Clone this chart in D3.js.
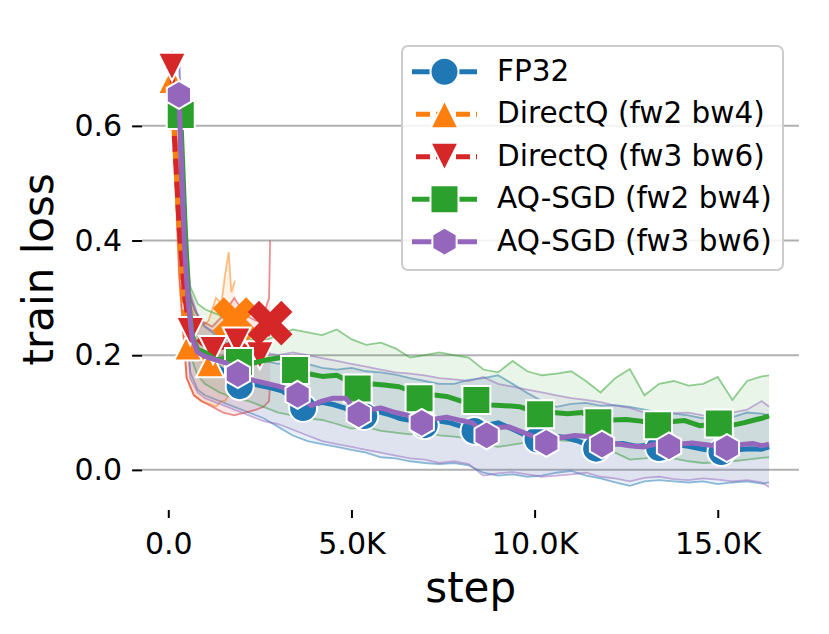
<!DOCTYPE html>
<html>
<head>
<meta charset="utf-8">
<title>train loss vs step</title>
<script src="https://d3js.org/d3.v7.min.js"></script>
<style>
  html, body { margin: 0; padding: 0; background: #fff; }
  svg { display: block; font-family: "DejaVu Sans", sans-serif; }
</style>
</head>
<body>
<svg width="829" height="634"></svg>
<script>
// steps are in thousands (K)
const fp32Steps = [0.3,0.45,0.55,0.65,0.8,1.0,1.3,1.6,1.95,2.2,2.5,2.8,3.1,3.4,3.68,3.9,4.2,4.5,4.8,5.1,5.35,5.7,6.0,6.3,6.7,7.0,7.3,7.7,8.0,8.36,8.7,9.0,9.3,9.7,10.08,10.4,10.8,11.2,11.68,12.0,12.4,12.8,13.1,13.4,13.8,14.2,14.6,15.1,15.5,15.9,16.2,16.4];
const fp32Loss  = [0.64,0.36,0.27,0.225,0.205,0.19,0.182,0.168,0.146,0.152,0.147,0.143,0.138,0.125,0.108,0.112,0.118,0.114,0.108,0.1,0.094,0.102,0.097,0.09,0.085,0.078,0.086,0.082,0.076,0.068,0.078,0.082,0.074,0.062,0.053,0.06,0.057,0.05,0.037,0.044,0.046,0.041,0.043,0.038,0.045,0.041,0.036,0.031,0.035,0.037,0.036,0.04];
const fp32Marks = [0.3,1.95,3.68,5.35,7.0,8.36,10.08,11.68,13.4,15.1];

const dq24Steps = [0.1,0.15,0.3,0.45,0.54,0.7,0.9,1.14,1.3,1.5,1.65,1.82];
const dq24Loss  = [0.68,0.6,0.42,0.26,0.215,0.2,0.192,0.186,0.2,0.23,0.25,0.262];
const dq24Marks = [0.1,0.54,1.14];

const dq36Steps = [0.1,0.15,0.3,0.45,0.6,0.9,1.22,1.5,1.87,2.2,2.5,2.65,2.78];
const dq36Loss  = [0.703,0.6,0.42,0.3,0.242,0.222,0.209,0.214,0.224,0.21,0.2,0.22,0.256];
const dq36Marks = [0.1,0.6,1.22,1.87,2.5];

const aq24Steps = [0.34,0.45,0.55,0.65,0.8,1.0,1.3,1.6,1.93,2.3,2.7,3.1,3.46,3.8,4.2,4.6,4.9,5.17,5.5,5.9,6.3,6.6,6.86,7.2,7.6,8.0,8.41,8.8,9.2,9.6,9.9,10.15,10.5,10.9,11.3,11.74,12.1,12.5,12.9,13.37,13.7,14.1,14.5,15.03,15.4,15.7,16.0,16.2,16.4];
const aq24Loss  = [0.619,0.44,0.3,0.235,0.21,0.205,0.192,0.195,0.188,0.186,0.192,0.196,0.174,0.168,0.163,0.165,0.155,0.142,0.15,0.148,0.145,0.138,0.125,0.131,0.128,0.12,0.122,0.113,0.112,0.11,0.104,0.097,0.1,0.098,0.1,0.083,0.087,0.088,0.085,0.078,0.084,0.086,0.077,0.081,0.078,0.082,0.087,0.09,0.094];
const aq24Marks = [0.34,1.93,3.46,5.17,6.86,8.41,10.15,11.74,13.37,15.03];

const aq36Steps = [0.29,0.45,0.54,0.65,0.8,1.0,1.3,1.6,1.9,2.2,2.6,3.0,3.3,3.53,3.9,4.2,4.5,4.85,5.2,5.5,5.8,6.2,6.5,6.92,7.2,7.6,8.0,8.3,8.69,9.0,9.3,9.7,10.0,10.32,10.7,11.1,11.5,11.84,12.2,12.6,13.0,13.3,13.67,14.0,14.3,14.8,15.25,15.6,15.95,16.2,16.4];
const aq36Loss  = [0.654,0.38,0.296,0.23,0.205,0.198,0.192,0.186,0.167,0.158,0.152,0.146,0.14,0.131,0.112,0.12,0.125,0.125,0.097,0.105,0.108,0.1,0.096,0.082,0.088,0.092,0.086,0.082,0.06,0.074,0.075,0.065,0.058,0.047,0.056,0.06,0.058,0.044,0.046,0.042,0.04,0.045,0.041,0.045,0.047,0.043,0.038,0.044,0.046,0.042,0.045];
const aq36Marks = [0.29,1.9,3.53,5.2,6.92,8.69,10.32,11.84,13.67,15.25];

// min / max bands across runs
const bandSteps = [0.3,0.45,0.6,0.8,1.0,1.4,1.8,2.2,2.6,3.0,3.4,3.8,4.2,4.6,5.0,5.4,5.8,6.2,6.6,7.0,7.4,7.8,8.2,8.6,9.0,9.4,9.8,10.2,10.6,11.0,11.4,11.8,12.2,12.6,13.0,13.4,13.8,14.2,14.6,15.0,15.4,15.8,16.2,16.4];
const fp32Upper = [0.7,0.42,0.3,0.27,0.25,0.23,0.21,0.2,0.19,0.185,0.19,0.185,0.178,0.175,0.178,0.172,0.17,0.166,0.16,0.155,0.15,0.15,0.157,0.16,0.165,0.15,0.134,0.12,0.11,0.115,0.117,0.112,0.113,0.11,0.105,0.1,0.098,0.095,0.09,0.087,0.092,0.1,0.098,0.095];
const fp32Lower = [0.58,0.3,0.17,0.14,0.13,0.12,0.11,0.1,0.09,0.075,0.06,0.05,0.045,0.04,0.035,0.03,0.022,0.02,0.015,0.012,0.01,0.012,0.008,-0.005,-0.01,-0.008,-0.012,-0.01,-0.005,-0.002,-0.01,-0.015,-0.022,-0.028,-0.02,-0.018,-0.02,-0.022,-0.02,-0.025,-0.022,-0.02,-0.024,-0.022];
const aq24Upper = [0.66,0.45,0.32,0.29,0.28,0.27,0.25,0.228,0.225,0.235,0.245,0.24,0.235,0.245,0.228,0.218,0.222,0.212,0.196,0.2,0.205,0.2,0.196,0.175,0.17,0.19,0.172,0.165,0.168,0.172,0.155,0.135,0.16,0.176,0.13,0.15,0.155,0.147,0.15,0.162,0.122,0.155,0.163,0.165];
const aq24Lower = [0.6,0.35,0.2,0.165,0.15,0.135,0.125,0.12,0.11,0.1,0.095,0.09,0.087,0.08,0.072,0.075,0.068,0.065,0.062,0.066,0.06,0.058,0.055,0.045,0.04,0.044,0.048,0.05,0.052,0.05,0.045,0.04,0.03,0.018,0.02,0.024,0.02,0.015,0.012,0.013,0.015,0.018,0.021,0.022];
const aq36Upper = [0.72,0.44,0.31,0.27,0.25,0.235,0.22,0.21,0.205,0.2,0.205,0.2,0.195,0.19,0.185,0.18,0.175,0.17,0.168,0.165,0.16,0.158,0.155,0.162,0.15,0.145,0.14,0.135,0.13,0.125,0.122,0.118,0.112,0.108,0.1,0.097,0.099,0.1,0.095,0.093,0.1,0.105,0.12,0.11];
const aq36Lower = [0.59,0.3,0.16,0.135,0.125,0.115,0.105,0.095,0.085,0.08,0.07,0.06,0.05,0.045,0.04,0.035,0.03,0.025,0.02,0.018,0.012,0.015,0.01,-0.01,-0.006,-0.004,-0.008,-0.012,-0.01,-0.008,-0.005,-0.012,-0.015,-0.02,-0.014,-0.012,-0.016,-0.018,-0.015,-0.017,-0.02,-0.018,-0.022,-0.03];

const dq24BandSteps = [0.1,0.3,0.5,0.7,0.9,1.1,1.3,1.45,1.55,1.65,1.72,1.82];
const dq24Upper = [0.72,0.5,0.3,0.27,0.25,0.26,0.3,0.29,0.34,0.38,0.31,0.33];
const dq24Lower = [0.64,0.33,0.16,0.13,0.12,0.115,0.11,0.12,0.12,0.13,0.13,0.14];
const dq36BandSteps = [0.1,0.3,0.5,0.7,0.9,1.2,1.5,1.8,2.1,2.4,2.6,2.75,2.78];
const dq36Upper = [0.73,0.5,0.33,0.28,0.26,0.25,0.27,0.3,0.27,0.26,0.27,0.3,0.4];
const dq36Lower = [0.66,0.34,0.16,0.13,0.12,0.11,0.1,0.095,0.1,0.105,0.11,0.12,0.15];

const xTicks = [0, 5, 10, 15];
const yTicks = [0.0, 0.2, 0.4, 0.6];

const series = [
  {name: "FP32", color: "#1f77b4", shape: "circle", dashed: false,
   steps: fp32Steps, loss: fp32Loss, marks: fp32Marks, bSteps: bandSteps, upper: fp32Upper, lower: fp32Lower, diverged: false},
  {name: "DirectQ (fw2 bw4)", color: "#ff7f0e", shape: "up", dashed: true,
   steps: dq24Steps, loss: dq24Loss, marks: dq24Marks, bSteps: dq24BandSteps, upper: dq24Upper, lower: dq24Lower, diverged: true},
  {name: "DirectQ (fw3 bw6)", color: "#d62728", shape: "down", dashed: true,
   steps: dq36Steps, loss: dq36Loss, marks: dq36Marks, bSteps: dq36BandSteps, upper: dq36Upper, lower: dq36Lower, diverged: true},
  {name: "AQ-SGD (fw2 bw4)", color: "#2ca02c", shape: "square", dashed: false,
   steps: aq24Steps, loss: aq24Loss, marks: aq24Marks, bSteps: bandSteps, upper: aq24Upper, lower: aq24Lower, diverged: false},
  {name: "AQ-SGD (fw3 bw6)", color: "#9467bd", shape: "hex", dashed: false,
   steps: aq36Steps, loss: aq36Loss, marks: aq36Marks, bSteps: bandSteps, upper: aq36Upper, lower: aq36Lower, diverged: false}
];

const svg = d3.select("svg");
const x = d3.scaleLinear().domain([-0.715, 17.215]).range([142.1, 798.9]);
const y = d3.scaleLinear().domain([-0.07, 0.77]).range([510, 28.4]);

function markerPath(shape, r) {
  const p = d3.path();
  if (shape === "circle") {
    p.arc(0, 0, r, 0, 2 * Math.PI);
  } else if (shape === "square") {
    p.rect(-r, -r, 2 * r, 2 * r);
  } else if (shape === "up") {
    p.moveTo(0, -r); p.lineTo(r, r); p.lineTo(-r, r); p.closePath();
  } else if (shape === "down") {
    p.moveTo(0, r); p.lineTo(r, -r); p.lineTo(-r, -r); p.closePath();
  } else if (shape === "hex") {
    for (let k = 0; k < 6; k++) {
      const a = -Math.PI / 2 + k * Math.PI / 3;
      if (k === 0) p.moveTo(r * Math.cos(a), r * Math.sin(a));
      else p.lineTo(r * Math.cos(a), r * Math.sin(a));
    }
    p.closePath();
  }
  return p.toString();
}

// gridlines
svg.append("g").selectAll("line")
  .data(yTicks)
  .join("line")
  .attr("x1", x.range()[0]).attr("x2", x.range()[1])
  .attr("y1", d => y(d)).attr("y2", d => y(d))
  .attr("stroke", "#b0b0b0").attr("stroke-width", 2);

// bands
const bandG = svg.append("g");
series.forEach(s => {
  const rows = d3.zip(s.bSteps, s.upper, s.lower);
  bandG.append("path")
    .datum(rows)
    .attr("fill", s.color).attr("fill-opacity", 0.1)
    .attr("d", d3.area().x(d => x(d[0])).y0(d => y(d[2])).y1(d => y(d[1])));
  [1, 2].forEach(i => {
    bandG.append("path")
      .datum(rows)
      .attr("fill", "none").attr("stroke", s.color)
      .attr("stroke-opacity", 0.5).attr("stroke-width", 1.8)
      .attr("d", d3.line().x(d => x(d[0])).y(d => y(d[i])));
  });
});

// mean lines with markers
series.forEach(s => {
  const g = svg.append("g");
  const rows = d3.zip(s.steps, s.loss);
  g.append("path")
    .datum(rows)
    .attr("fill", "none").attr("stroke", s.color)
    .attr("stroke-width", 5).attr("stroke-linejoin", "round")
    .attr("stroke-dasharray", s.dashed ? "16,7" : null)
    .attr("d", d3.line().x(d => x(d[0])).y(d => y(d[1])));
  const along = d3.scaleLinear().domain(s.steps).range(s.loss);
  g.selectAll(".mk")
    .data(s.marks)
    .join("path")
    .attr("class", "mk")
    .attr("transform", d => `translate(${x(d)},${y(along(d))})`)
    .attr("d", markerPath(s.shape, 14))
    .attr("fill", s.color).attr("stroke", "#fff").attr("stroke-width", 2);
  if (s.diverged) {
    const last = rows[rows.length - 1];
    g.append("path")
      .attr("transform", `translate(${x(last[0])},${y(last[1])}) rotate(45)`)
      .attr("d", d3.symbol().type(d3.symbolCross).size(1250)())
      .attr("fill", s.color);
  }
});

// axes
const yAxis = svg.append("g")
  .attr("transform", `translate(${x.range()[0]},0)`)
  .call(d3.axisLeft(y).tickValues(yTicks).tickFormat(d3.format(".1f")).tickSize(10).tickPadding(10));
const xAxis = svg.append("g")
  .attr("transform", `translate(0,510)`)
  .call(d3.axisBottom(x).tickValues(xTicks)
    .tickFormat(d => d === 0 ? "0.0" : d.toFixed(1) + "K").tickSize(8).tickPadding(15));
[yAxis, xAxis].forEach(a => {
  a.select(".domain").remove();
  a.attr("font-family", "DejaVu Sans").attr("font-size", 30);
  a.selectAll(".tick line").attr("stroke", "#000").attr("stroke-width", 2);
  a.selectAll(".tick text").attr("fill", "#000");
});

svg.append("text")
  .attr("transform", "translate(53,269.3) rotate(-90)")
  .attr("text-anchor", "middle")
  .attr("font-size", 42)
  .text("train loss");
svg.append("text")
  .attr("x", 470.7).attr("y", 602)
  .attr("text-anchor", "middle")
  .attr("font-size", 42)
  .text("step");

// legend
const legend = svg.append("g");
legend.append("rect")
  .attr("x", 402).attr("y", 46).attr("width", 381).attr("height", 224).attr("rx", 6)
  .attr("fill", "#fff").attr("fill-opacity", 0.85)
  .attr("stroke", "#cccccc").attr("stroke-width", 2);
series.forEach((s, i) => {
  const cy = 71.7 + i * 42.5;
  legend.append("line")
    .attr("x1", 412).attr("x2", 477).attr("y1", cy).attr("y2", cy)
    .attr("stroke", s.color).attr("stroke-width", 5)
    .attr("stroke-dasharray", s.dashed ? "14,6" : null)
    .attr("stroke-dashoffset", s.dashed ? -4 : null);
  legend.append("path")
    .attr("transform", `translate(444.5,${cy})`)
    .attr("d", markerPath(s.shape, 14))
    .attr("fill", s.color).attr("stroke", "#fff").attr("stroke-width", 2);
  legend.append("text")
    .attr("x", 497).attr("y", cy).attr("dy", "0.31em")
    .attr("font-size", 29.5)
    .text(s.name);
});
</script>
</body>
</html>
